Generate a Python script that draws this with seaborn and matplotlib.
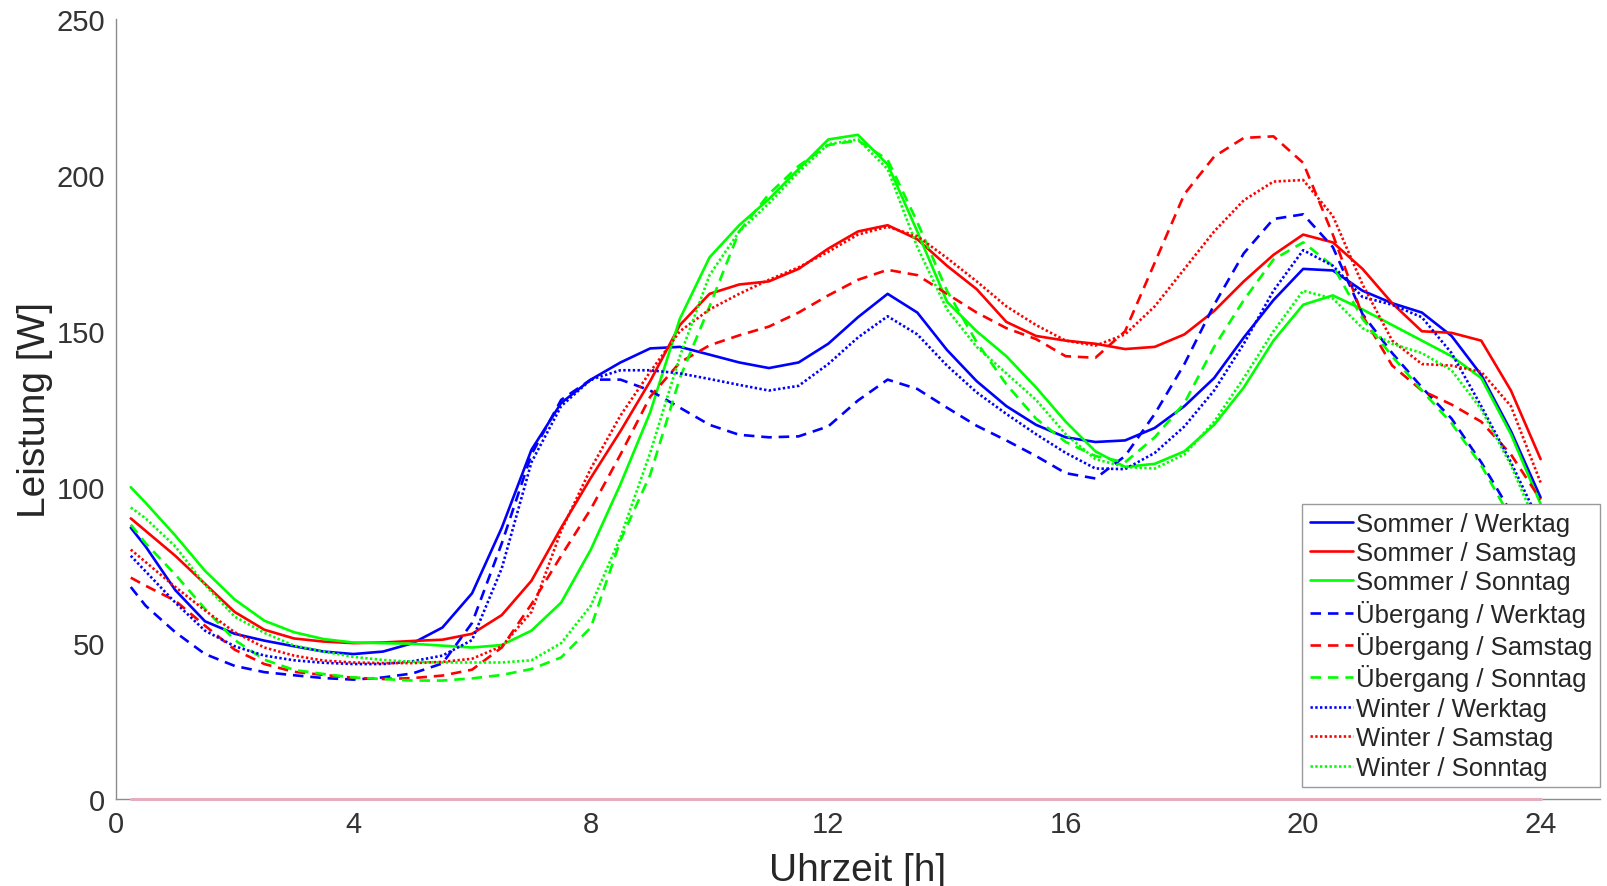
import pandas as pd
import matplotlib
matplotlib.use("Agg")
import matplotlib.pyplot as plt
import seaborn as sns

# Stundenwerte (Uhrzeit in h)
hours = [0.25, 0.5, 1.0, 1.5, 2.0, 2.5, 3.0, 3.5, 4.0, 4.5, 5.0, 5.5, 6.0, 6.5, 7.0, 7.5,
         8.0, 8.5, 9.0, 9.5, 10.0, 10.5, 11.0, 11.5, 12.0, 12.5, 13.0, 13.5, 14.0, 14.5,
         15.0, 15.5, 16.0, 16.5, 17.0, 17.5, 18.0, 18.5, 19.0, 19.5, 20.0, 20.5, 21.0,
         21.5, 22.0, 22.5, 23.0, 23.5, 24.0]

sommer_werktag = [87, 81, 67, 57, 53, 50.8, 49, 47.3, 46.5, 47.3, 50, 55, 66, 87, 112, 127,
                  134.5, 140, 144.5, 145, 142.5, 140, 138.2, 140, 146, 154.5, 162, 156, 144, 134,
                  126, 120, 116, 114.5, 115, 119, 126, 135, 148, 160, 170, 169.5, 163,
                  159, 156, 148.5, 136, 118, 96.7]
sommer_samstag = [90, 86, 78, 69, 60, 54.3, 51.5, 50.5, 50, 50.2, 50.7, 51.1, 53, 59, 70, 87,
                  103, 118, 134, 152, 162, 165, 166, 170, 176.5, 182, 184, 179.5, 171, 163.5,
                  153, 148.5, 147, 146, 144.3, 145, 149, 156.5, 166, 174.5, 181, 178.5, 170,
                  159, 150, 149.5, 147, 131, 109]
sommer_sonntag = [100, 95, 84.5, 73.2, 64, 57.2, 53.5, 51.3, 50.2, 50, 49.8, 49.2, 48.6, 49.4, 54, 63,
                  80, 101, 124, 154, 173.7, 184, 192.4, 202, 211.5, 213, 203.5, 182, 159.5, 150,
                  142, 132, 121, 111.5, 106.5, 107.5, 111.5, 120, 132, 147, 158.5, 161.5, 157,
                  152, 147, 142, 135, 117, 94.6]
uebergang_werktag = [68, 62, 53.5, 46.5, 42.7, 40.7, 39.7, 38.8, 38.3, 39, 40.3, 43.5, 56.5, 82, 110.5, 128,
                     134.5, 134.5, 131, 125.5, 120, 116.8, 116, 116.3, 119.5, 127.8, 134.5, 131.5, 125.5, 119.7,
                     115, 110, 104.5, 102.8, 110, 123.5, 139.5, 158.5, 175, 186, 187.5, 177, 155.5,
                     143, 132, 122, 108, 92, 73]
uebergang_samstag = [71, 68.4, 63.6, 55.6, 47.9, 43.3, 40.8, 39.8, 38.9, 38.5, 38.8, 39.6, 41.5, 48.6, 62.5, 78,
                     93, 110.5, 129, 140, 145.5, 148.7, 151.5, 156, 161.5, 166.5, 169.7, 168, 162, 156,
                     151, 147.5, 142, 141.5, 150, 172, 194, 206, 212, 212.5, 204, 181, 155,
                     139, 131, 126.5, 121, 110.5, 96]
uebergang_sonntag = [88, 82, 72, 61, 51, 44.7, 41.4, 40.1, 39, 38.5, 38, 38, 38.7, 39.8, 41.7, 45.4,
                     55, 83, 104, 135, 158, 182, 194, 203, 209.7, 211.2, 205, 185, 163, 146.5,
                     133, 122, 114.5, 110, 108, 116, 127, 145, 160, 173, 178.5, 171, 154,
                     142, 131, 120.5, 107, 90, 72]
winter_werktag = [78, 73, 63, 54, 49, 46, 44.5, 43.7, 43.3, 43.3, 44.2, 46, 51, 74, 108, 126,
                  134.5, 137.5, 137.5, 136.5, 134.7, 132.8, 131, 132.5, 139.5, 148, 154.8, 149, 139, 130.4,
                  123.5, 117, 111, 106, 105.8, 111, 119.5, 131, 146, 163, 176, 171, 161,
                  158.5, 154.5, 143, 126, 108, 88]
winter_samstag = [80, 76, 68, 60.5, 53.5, 48.6, 46, 44.4, 43.8, 43.6, 43.6, 44, 45, 49, 60, 86,
                  106, 123, 137, 150, 157, 162, 166.5, 170.5, 175.5, 181, 183.5, 180.5, 173.5, 166,
                  158, 152, 147, 145.4, 149, 158, 170, 182, 192, 198, 198.5, 187, 165,
                  147, 139.5, 139, 137, 126, 101.5]
winter_sonntag = [93.5, 90, 81, 68.7, 58.5, 53.3, 49.2, 47.3, 45.6, 44.6, 44, 43.8, 43.8, 43.8, 44.5, 50,
                  62, 84, 111, 142, 168, 182, 191, 201, 210, 211.5, 202, 177, 157, 145,
                  136.5, 128, 117, 109, 106.5, 106, 110.5, 121, 135, 150, 163, 160.5, 151,
                  146, 143, 137.5, 125, 107, 85]
baseline = [0.0] * len(hours)

seasons = ["Sommer", "Übergang", "Winter"]
days = ["Werktag", "Samstag", "Sonntag"]
series = [sommer_werktag, sommer_samstag, sommer_sonntag,
          uebergang_werktag, uebergang_samstag, uebergang_sonntag,
          winter_werktag, winter_samstag, winter_sonntag]

day_colors = {"Werktag": "#0000ff", "Samstag": "#ff0000", "Sonntag": "#00ff00"}
season_dashes = {"Sommer": "", "Übergang": (4, 2.6), "Winter": (0.9, 0.9)}

rows = []
palette = {}
dashes = {}
order = []
for i, season in enumerate(seasons):
    for j, day in enumerate(days):
        name = f"{season} / {day}"
        order.append(name)
        palette[name] = day_colors[day]
        dashes[name] = season_dashes[season]
        for h, v in zip(hours, series[i * 3 + j]):
            rows.append({"Uhrzeit": h, "Leistung": v, "Kurve": name})
df = pd.DataFrame(rows)

sns.set_style("white")
plt.rcParams["font.family"] = ["Liberation Sans", "DejaVu Sans"]

fig, ax = plt.subplots(figsize=(16.08, 8.87), dpi=100)
fig.subplots_adjust(left=0.0721, right=0.995, bottom=0.098, top=0.977)

sns.lineplot(data=df, x="Uhrzeit", y="Leistung", hue="Kurve", style="Kurve",
             hue_order=order, style_order=order, palette=palette, dashes=dashes,
             linewidth=1.9, sort=False, estimator=None, ax=ax)
sns.lineplot(x=hours, y=baseline, color="#e6aebd", linewidth=2.2, ax=ax,
             zorder=3, clip_on=False)

ax.set_xlim(0, 25)
ax.set_ylim(0, 250)
ax.set_xticks([0, 4, 8, 12, 16, 20, 24])
ax.set_yticks([0, 50, 100, 150, 200, 250])
ax.set_xlabel("Uhrzeit [h]", fontsize=28, color="#262626", labelpad=10)
ax.set_ylabel("Leistung [W]", fontsize=28, color="#262626", labelpad=2)

for side in ["top", "right"]:
    ax.spines[side].set_visible(False)
for side in ["left", "bottom"]:
    ax.spines[side].set_color("#8c8c8c")
    ax.spines[side].set_linewidth(1.0)
ax.tick_params(direction="in", length=8, width=1, color="#8c8c8c",
               labelsize=21, labelcolor="#333333", pad=8)

handles, labels = ax.get_legend_handles_labels()
keep = [(h, l) for h, l in zip(handles, labels) if l in order]
leg = ax.legend([h for h, _ in keep], [l for _, l in keep], loc="lower right",
                bbox_to_anchor=(1.0, 0.015), borderaxespad=0, fontsize=18.5,
                frameon=True, fancybox=False, framealpha=1, edgecolor="#9a9a9a",
                handlelength=1.7, handletextpad=0.1, labelspacing=0.21, borderpad=0.3)
leg.get_frame().set_linewidth(1.0)
for t in leg.get_texts():
    t.set_color("#262626")

plt.savefig("out.png", dpi=100)
